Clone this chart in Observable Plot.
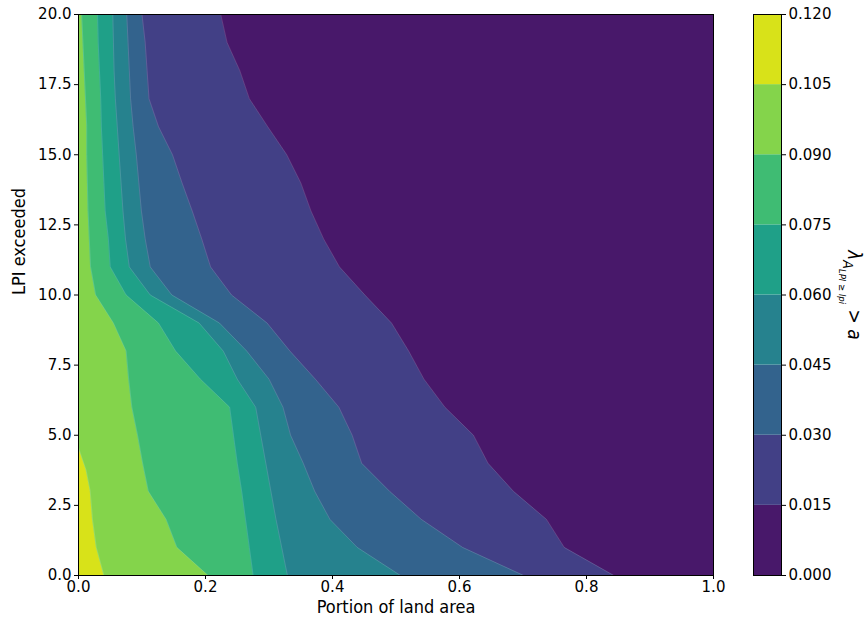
<!DOCTYPE html>
<html>
<head>
<meta charset="utf-8">
<script src="https://cdn.jsdelivr.net/npm/d3@7"></script>
<script src="https://cdn.jsdelivr.net/npm/@observablehq/plot@0.6"></script>
<style>
  body { margin: 0; background: #fff; }
  #chart { position: relative; width: 865px; height: 627px; }
  #chart svg { position: absolute; top: 0; overflow: visible; }
</style>
</head>
<body>
<div id="chart"></div>
<script>
// LPI thresholds at which each contour edge is sampled
const lpi = [0, 1, 2, 3, 4, 5, 6, 7, 8, 9, 10, 11, 12, 13, 14, 15, 16, 17, 18, 19, 20];

// Portion of land area where the exceedance rate drops below each level
const edge015 = [0.843, 0.765, 0.737, 0.685, 0.645, 0.622, 0.577, 0.544, 0.520, 0.493, 0.451, 0.411, 0.386, 0.366, 0.350, 0.328, 0.298, 0.269, 0.254, 0.234, 0.224];
const edge030 = [0.701, 0.605, 0.540, 0.490, 0.446, 0.431, 0.410, 0.373, 0.333, 0.297, 0.241, 0.208, 0.194, 0.179, 0.163, 0.148, 0.126, 0.111, 0.108, 0.105, 0.100];
const edge045 = [0.507, 0.439, 0.396, 0.372, 0.354, 0.334, 0.322, 0.300, 0.265, 0.222, 0.147, 0.113, 0.105, 0.099, 0.095, 0.091, 0.086, 0.082, 0.080, 0.078, 0.076];
const edge060 = [0.329, 0.320, 0.311, 0.303, 0.295, 0.287, 0.279, 0.250, 0.228, 0.190, 0.113, 0.080, 0.074, 0.070, 0.067, 0.064, 0.061, 0.058, 0.056, 0.055, 0.054];
const edge075 = [0.275, 0.269, 0.263, 0.257, 0.250, 0.244, 0.238, 0.192, 0.153, 0.126, 0.075, 0.050, 0.047, 0.042, 0.040, 0.038, 0.036, 0.035, 0.033, 0.031, 0.030];
const edge090 = [0.204, 0.155, 0.138, 0.110, 0.101, 0.093, 0.084, 0.079, 0.075, 0.055, 0.027, 0.019, 0.017, 0.015, 0.014, 0.013, 0.013, 0.011, 0.009, 0.007, 0.005];
// the highest band only reaches up to about LPI 4.5
const lpi105 = [0, 1, 2, 3, 3.75, 4.55];
const edge105 = [0.040, 0.028, 0.022, 0.0185, 0.012, 0];

// contour levels of the exceedance rate
const levels = [0, 0.015, 0.03, 0.045, 0.06, 0.075, 0.09, 0.105, 0.12];
const xTicks = [0, 0.2, 0.4, 0.6, 0.8, 1.0];
const yTicks = [0, 2.5, 5, 7.5, 10, 12.5, 15, 17.5, 20];

const nBands = levels.length - 1;
const bandColor = k => d3.interpolateViridis((k + 0.5) / nBands);

const edges = [
  {y: lpi, x: edge015},
  {y: lpi, x: edge030},
  {y: lpi, x: edge045},
  {y: lpi, x: edge060},
  {y: lpi, x: edge075},
  {y: lpi, x: edge090},
  {y: lpi105, x: edge105}
];

const labelFont = "'DejaVu Sans Condensed', 'DejaVu Sans', sans-serif";
const tickFont = "'DejaVu Sans', sans-serif";

const main = Plot.plot({
  width: 720,
  height: 627,
  marginLeft: 78,
  marginRight: 7,
  marginTop: 14,
  marginBottom: 52,
  style: {fontFamily: tickFont, fontSize: "15px", background: "transparent", overflow: "visible"},
  x: {domain: [0, 1]},
  y: {domain: [0, 20]},
  marks: [
    Plot.frame({fill: bandColor(0)}),
    ...edges.map((e, k) => Plot.areaX(e.y, {
      y: d => d,
      x1: 0,
      x2: (d, i) => e.x[i],
      fill: bandColor(k + 1)
    })),
    ...edges.map(e => Plot.lineX(e.y, {
      y: d => d,
      x: (d, i) => e.x[i],
      stroke: "#ffffff",
      strokeOpacity: 0.22,
      strokeWidth: 0.7
    })),
    Plot.axisX({ticks: xTicks, tickFormat: ".1f", tickSize: 4, tickPadding: 2, label: null, fontSize: 15}),
    Plot.axisY({ticks: yTicks, tickFormat: ".1f", tickSize: 4, tickPadding: 3, label: null, fontSize: 15}),
    Plot.text(["Portion of land area"], {frameAnchor: "bottom", dy: 37, fontSize: 18, fontFamily: labelFont, fill: "black"}),
    Plot.text(["LPI exceeded"], {frameAnchor: "left", dx: -59, rotate: -90, fontSize: 18, fontFamily: labelFont, fill: "black"}),
    Plot.frame({stroke: "black", strokeWidth: 1})
  ]
});
main.style.left = "0px";

// colour bar: one cell per contour band
const bands = d3.range(nBands).map(k => ({lo: levels[k], hi: levels[k + 1], k}));
const bar = Plot.plot({
  width: 145,
  height: 627,
  marginLeft: 33,
  marginRight: 84,
  marginTop: 14,
  marginBottom: 52,
  style: {fontFamily: tickFont, fontSize: "15px", background: "transparent", overflow: "visible"},
  x: {domain: [0, 1], axis: null},
  y: {domain: [0, 0.12]},
  marks: [
    Plot.rect(bands, {x1: 0, x2: 1, y1: "lo", y2: "hi", fill: d => bandColor(d.k)}),
    Plot.axisY({anchor: "right", ticks: levels, tickFormat: ".3f", tickSize: 4, tickPadding: 3, label: null, fontSize: 15}),
    Plot.frame({stroke: "black", strokeWidth: 1})
  ]
});
bar.style.left = "720px";

// colour bar title, rotated to read downward
const t = d3.select(bar).append("text")
  .attr("transform", "translate(128,295) rotate(90)")
  .attr("text-anchor", "middle")
  .attr("font-family", labelFont)
  .attr("font-style", "italic")
  .attr("font-size", 19)
  .attr("fill", "black");
t.append("tspan").text("λ");
t.append("tspan").attr("font-size", 14).attr("dy", 5).text("A");
t.append("tspan").attr("font-size", 9.5).attr("dy", 4).text("LPI ≥ lpi");
t.append("tspan").attr("dy", -9).text(" > a");

document.getElementById("chart").append(main, bar);
</script>
</body>
</html>
